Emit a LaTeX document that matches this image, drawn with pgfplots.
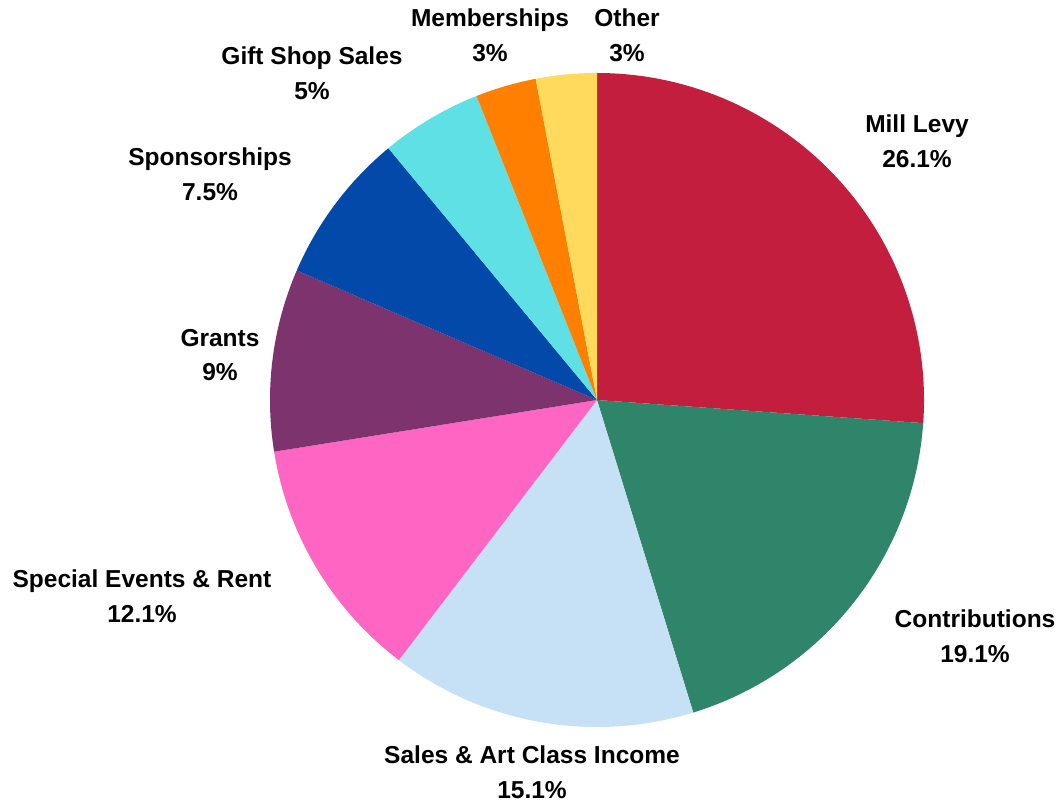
\documentclass[border=0pt]{standalone}
\usepackage{pgfplots}
\pgfplotsset{compat=1.18}
\usepackage{fontspec}
\setmainfont{Liberation Sans}

\definecolor{cMill}{HTML}{C41E3E}
\definecolor{cContrib}{HTML}{2F856A}
\definecolor{cSales}{HTML}{C6E0F5}
\definecolor{cSpecial}{HTML}{FF66C4}
\definecolor{cGrants}{HTML}{7D336E}
\definecolor{cSponsor}{HTML}{0249AA}
\definecolor{cGift}{HTML}{5EE0E4}
\definecolor{cMember}{HTML}{FF7F00}
\definecolor{cOther}{HTML}{FFDA5C}

% slice: {cumulative share before}{share}{colour}; 99.9 shares make the full circle
\newcommand{\slice}[3]{%
  \fill[#3] (axis cs:597,404) -- ++({90-3.6036*#1}:163.5bp)
    arc[start angle={90-3.6036*#1}, delta angle={-3.6036*#2}, radius=163.5bp] -- cycle;}
\newcommand{\plabel}[3]{%
  \node[align=center, font=\bfseries\fontsize{12.3}{17.5}\selectfont]
    at (axis cs:#1,#2) {#3};}

\begin{document}
\begin{tikzpicture}
\begin{axis}[
    x=0.5bp, y=0.5bp,
    xmin=0, xmax=1062, ymin=0, ymax=804,
    hide axis, clip=false,
]
\path (axis cs:0,0) rectangle (axis cs:1062,804);
\slice{0}{26.1}{cMill}
\slice{26.1}{19.1}{cContrib}
\slice{45.2}{15.1}{cSales}
\slice{60.3}{12.1}{cSpecial}
\slice{72.4}{9}{cGrants}
\slice{81.4}{7.5}{cSponsor}
\slice{88.9}{5}{cGift}
\slice{93.9}{3}{cMember}
\slice{96.9}{3}{cOther}

\plabel{917}{663}{Mill Levy\\26.1\%}
\plabel{975}{168}{Contributions\\19.1\%}
\plabel{532}{32}{Sales \& Art Class Income\\15.1\%}
\plabel{142}{208}{Special Events \& Rent\\12.1\%}
\plabel{220}{449}{Grants\\9\%}
\plabel{210}{630}{Sponsorships\\7.5\%}
\plabel{312}{731}{Gift Shop Sales\\5\%}
\plabel{490}{769}{Memberships\\3\%}
\plabel{627}{769}{Other\\3\%}
\end{axis}
\end{tikzpicture}
\end{document}
